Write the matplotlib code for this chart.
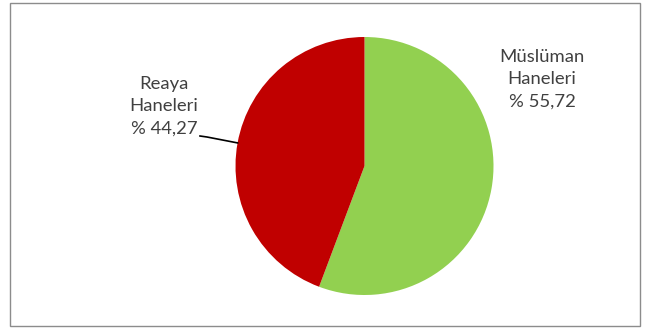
import numpy as np
import matplotlib.pyplot as plt
from matplotlib.patches import Rectangle

labels = ["Müslüman\nHaneleri\n% 55,72", "Reaya\nHaneleri\n% 44,27"]
values = [55.72, 44.27]
colors = ["#92D050", "#C00000"]

fig = plt.figure(figsize=(6.49, 3.29), dpi=100)
ax = fig.add_axes([0, 0, 1, 1])

# pixel-ish coordinates, y going up
cx, cy, r = 364.5, 163, 129
ax.pie(values, colors=colors, startangle=90, counterclock=False,
       center=(cx, cy), radius=r, wedgeprops=dict(linewidth=0))
ax.set_xlim(0, 649)
ax.set_ylim(0, 329)
ax.set_aspect("equal")
ax.axis("off")

# chart border
ax.add_patch(Rectangle((10, 3), 630, 323, fill=False, edgecolor="#8c8c8c", linewidth=1))

txt = dict(ha="center", va="center", fontsize=13.3, color="#404040",
           family=["Lato", "DejaVu Sans"], linespacing=1.5)
ax.text(542, 250, labels[0], **txt)
ax.text(164, 223, labels[1], **txt)

# leader line to middle of the red slice
start = 90 - values[0] / sum(values) * 360
mid = np.deg2rad(start - values[1] / sum(values) * 360 / 2)
ex, ey = cx + r * np.cos(mid), cy + r * np.sin(mid)
ax.plot([200, 207, ex], [193, 192, ey], color="black", linewidth=1.2)

plt.savefig("out.png", dpi=100)
